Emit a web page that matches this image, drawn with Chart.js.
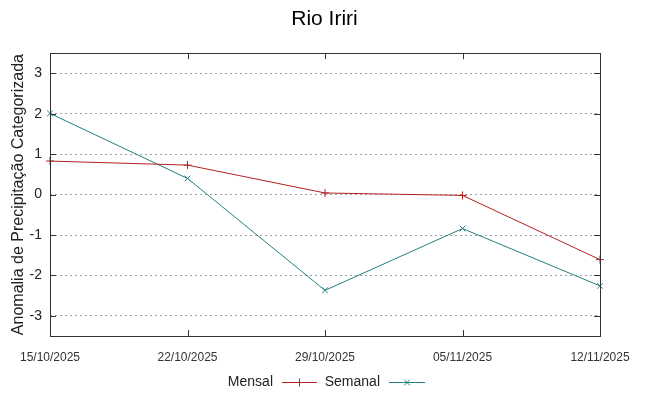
<!DOCTYPE html>
<html>
<head>
<meta charset="utf-8">
<script src="https://cdn.jsdelivr.net/npm/chart.js@4/dist/chart.umd.min.js"></script>
<style>
  html, body { margin: 0; padding: 0; background: #fff; }
  #wrap { width: 649px; height: 396px; }
</style>
</head>
<body>
<div id="wrap"><canvas id="rioChart"></canvas></div>
<script>
const dates = ['15/10/2025', '22/10/2025', '29/10/2025', '05/11/2025', '12/11/2025'];
const mensal = [0.83, 0.73, 0.04, -0.02, -1.61];
const semanal = [2.01, 0.40, -2.37, -0.84, -2.26];
const yTickValues = [-3, -2, -1, 0, 1, 2, 3];

const FONT = "'Liberation Sans', Arial, sans-serif";

// caixa do gráfico + marcas de escala para dentro (estilo gnuplot)
const frameTicks = {
  id: 'frameTicks',
  afterDraw(chart) {
    const { ctx, chartArea: a, scales } = chart;
    ctx.save();
    ctx.strokeStyle = '#333';
    ctx.lineWidth = 1;
    ctx.beginPath();
    scales.y.ticks.forEach(t => {
      const y = Math.round(scales.y.getPixelForValue(t.value)) + 0.5;
      ctx.moveTo(a.left, y); ctx.lineTo(a.left + 6, y);
      ctx.moveTo(a.right, y); ctx.lineTo(a.right - 6, y);
    });
    scales.x.ticks.forEach((t, i) => {
      const x = Math.round(scales.x.getPixelForTick(i)) + 0.5;
      ctx.moveTo(x, a.bottom); ctx.lineTo(x, a.bottom - 6);
      ctx.moveTo(x, a.top); ctx.lineTo(x, a.top + 6);
    });
    ctx.stroke();
    ctx.strokeRect(Math.round(a.left) + 0.5, Math.round(a.top) + 0.5,
      Math.round(a.right - a.left), Math.round(a.bottom - a.top));
    ctx.restore();
  }
};

// legenda embaixo: texto primeiro, depois a amostra da linha
const bottomLegend = {
  id: 'bottomLegend',
  afterDraw(chart) {
    const { ctx } = chart;
    const y = 382.5;
    const spots = [{ textEnd: 273, lineStart: 282, lineEnd: 317 }, { textEnd: 380, lineStart: 389, lineEnd: 425 }];
    ctx.save();
    ctx.font = '14px ' + FONT;
    ctx.textAlign = 'right';
    ctx.textBaseline = 'middle';
    chart.data.datasets.forEach((ds, i) => {
      const s = spots[i];
      ctx.fillStyle = '#222';
      ctx.fillText(ds.label, s.textEnd, y);
      ctx.strokeStyle = ds.borderColor;
      ctx.lineWidth = 1;
      ctx.beginPath();
      ctx.moveTo(s.lineStart, y); ctx.lineTo(s.lineEnd, y);
      ctx.stroke();
      Chart.helpers.drawPoint(ctx, { pointStyle: ds.pointStyle, radius: 4, borderWidth: 1 }, (s.lineStart + s.lineEnd) / 2, y);
    });
    ctx.restore();
  }
};

new Chart(document.getElementById('rioChart'), {
  type: 'line',
  data: {
    labels: dates,
    datasets: [
      {
        label: 'Mensal',
        data: mensal,
        borderColor: '#b22222',
        backgroundColor: '#b22222',
        borderWidth: 1,
        pointStyle: 'cross',
        pointRadius: 4,
        pointBorderWidth: 1,
        tension: 0,
      },
      {
        label: 'Semanal',
        data: semanal,
        borderColor: '#228080',
        backgroundColor: '#228080',
        borderWidth: 1,
        pointStyle: 'crossRot',
        pointRadius: 4,
        pointBorderWidth: 1,
        tension: 0,
      },
    ],
  },
  options: {
    responsive: true,
    maintainAspectRatio: false,
    animation: false,
    layout: { padding: 0 },
    plugins: {
      legend: { display: false },
      tooltip: { enabled: false },
      title: {
        display: true,
        text: 'Rio Iriri',
        color: '#000',
        font: { family: FONT, size: 21, weight: 'normal', lineHeight: 1.2 },
        padding: { top: 7, bottom: 21 },
      },
    },
    scales: {
      x: {
        type: 'category',
        offset: false,
        grid: { display: false, drawTicks: false },
        border: { display: false },
        ticks: {
          color: '#333',
          font: { family: FONT, size: 12 },
          padding: 14,
          maxRotation: 0,
          autoSkip: false,
        },
        afterFit: s => { s.height = 60; },
      },
      y: {
        min: -3.5,
        max: 3.5,
        afterBuildTicks: s => { s.ticks = yTickValues.map(v => ({ value: v })); },
        grid: {
          color: '#a0a0a0',
          lineWidth: 1,
          drawTicks: false,
        },
        border: { display: false, dash: [2, 3] },
        ticks: {
          color: '#222',
          font: { family: FONT, size: 14 },
          padding: 8,
        },
        title: {
          display: true,
          text: 'Anomalia de Precipitação Categorizada',
          color: '#222',
          font: { family: FONT, size: 16 },
          padding: { top: 9, bottom: 0 },
        },
        afterFit: s => { s.width = 50; },
      },
      // eixo vazio à direita só para reservar a margem
      yRight: {
        position: 'right',
        min: -3.5,
        max: 3.5,
        grid: { display: false, drawTicks: false },
        border: { display: false },
        ticks: { display: false },
        afterFit: s => { s.width = 49; },
      },
    },
  },
  plugins: [frameTicks, bottomLegend],
});
</script>
</body>
</html>
